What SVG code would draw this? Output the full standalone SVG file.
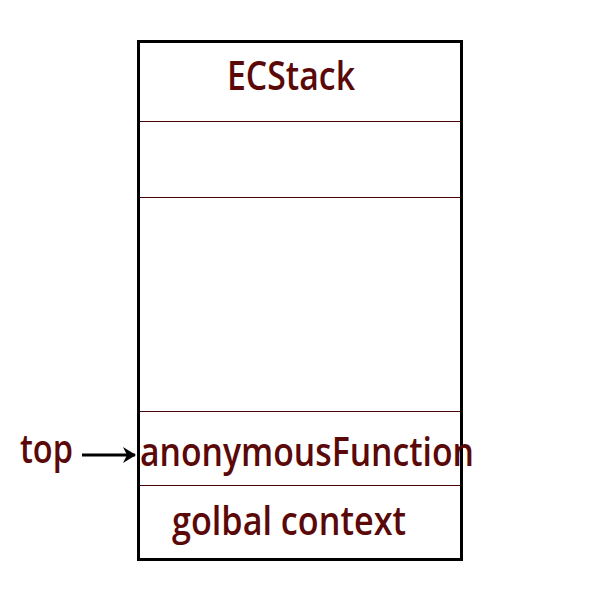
<svg xmlns="http://www.w3.org/2000/svg" width="600" height="600" viewBox="0 0 600 600">
<defs>
<style>
.lbl{font-family:"Open Sans","Noto Sans","Liberation Sans",sans-serif;font-size:40px;font-weight:600;fill:#5a0808}
.div{stroke:#4a0606;stroke-width:1}
</style>
<marker id="ah" markerWidth="14" markerHeight="16" refX="12" refY="8" orient="auto" markerUnits="userSpaceOnUse">
<path d="M0,0 L13,8 L0,16 L4,8 Z" fill="#000"/>
</marker>
</defs>
<rect width="600" height="600" fill="#fff"/>
<g id="stack">
<rect x="138.5" y="41.5" width="323" height="518" fill="#fff" stroke="#000" stroke-width="3"/>
<line class="div" x1="140" y1="121.5" x2="460" y2="121.5"/>
<line class="div" x1="140" y1="197.5" x2="460" y2="197.5"/>
<line class="div" x1="140" y1="411.5" x2="460" y2="411.5"/>
<line class="div" x1="140" y1="485.5" x2="460" y2="485.5"/>
</g>
<g id="title"><text class="lbl" x="227" y="90" textLength="128" lengthAdjust="spacingAndGlyphs">ECStack</text></g>
<g id="anon"><text class="lbl" x="140" y="466" textLength="334" lengthAdjust="spacingAndGlyphs">anonymousFunction</text></g>
<g id="global"><text class="lbl" x="172" y="535" textLength="234" lengthAdjust="spacingAndGlyphs">golbal context</text></g>
<g id="top"><text class="lbl" x="20" y="463" textLength="53" lengthAdjust="spacingAndGlyphs">top</text></g>
<g id="connectors">
<line x1="82" y1="455" x2="135" y2="455" stroke="#000" stroke-width="3" marker-end="url(#ah)"/>
</g>
</svg>
